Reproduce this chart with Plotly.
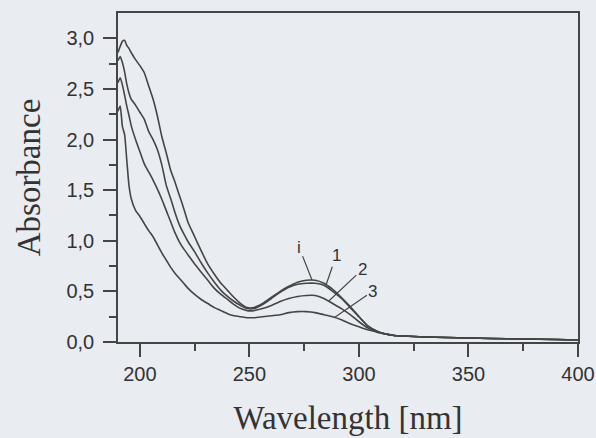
import plotly.graph_objects as go

# wavelength grid (nm)
wavelength = [190, 191, 192, 193, 194, 195, 196, 198, 200, 202,
              204, 206, 208, 210, 212, 214, 216, 218, 220, 222,
              225, 228, 231, 234, 237, 240, 243, 246, 249, 252,
              256, 260, 264, 268, 272, 276, 280, 284, 288, 292,
              296, 300, 304, 308, 312, 316, 320, 330, 340, 350,
              360, 375, 390, 400]

abs_i = [2.86, 2.92, 2.97, 2.98, 2.93, 2.90, 2.86, 2.79, 2.73, 2.66,
         2.53, 2.40, 2.23, 2.03, 1.87, 1.70, 1.58, 1.45, 1.32, 1.18,
         1.04, 0.90, 0.77, 0.67, 0.58, 0.51, 0.44, 0.38, 0.34, 0.34,
         0.38, 0.44, 0.50, 0.55, 0.59, 0.61, 0.61, 0.58, 0.52, 0.44,
         0.35, 0.25, 0.16, 0.11, 0.08, 0.065, 0.06, 0.05, 0.045, 0.04,
         0.035, 0.03, 0.025, 0.02]

abs_1 = [2.78, 2.82, 2.76, 2.67, 2.55, 2.46, 2.40, 2.34, 2.27, 2.20,
         2.08, 2.00, 1.90, 1.75, 1.55, 1.42, 1.28, 1.16, 1.07, 0.99,
         0.89, 0.78, 0.68, 0.59, 0.51, 0.45, 0.40, 0.36, 0.33, 0.33,
         0.37, 0.43, 0.49, 0.54, 0.57, 0.58, 0.58, 0.56, 0.50, 0.43,
         0.34, 0.25, 0.16, 0.11, 0.08, 0.065, 0.06, 0.05, 0.045, 0.04,
         0.035, 0.03, 0.025, 0.02]

abs_2 = [2.56, 2.61, 2.54, 2.44, 2.33, 2.24, 2.14, 2.00, 1.88, 1.76,
         1.68, 1.60, 1.51, 1.41, 1.30, 1.19, 1.08, 0.99, 0.92, 0.86,
         0.77, 0.69, 0.61, 0.53, 0.47, 0.42, 0.37, 0.33, 0.31, 0.31,
         0.33, 0.36, 0.40, 0.43, 0.45, 0.46, 0.46, 0.43, 0.38, 0.33,
         0.27, 0.20, 0.14, 0.10, 0.08, 0.065, 0.06, 0.05, 0.045, 0.04,
         0.035, 0.03, 0.025, 0.02]

abs_3 = [2.28, 2.33, 2.13, 2.05, 1.80, 1.55, 1.42, 1.30, 1.24, 1.17,
         1.10, 1.04, 0.96, 0.88, 0.81, 0.74, 0.68, 0.63, 0.58, 0.53,
         0.47, 0.42, 0.38, 0.34, 0.31, 0.28, 0.26, 0.25, 0.24, 0.24,
         0.25, 0.26, 0.27, 0.29, 0.30, 0.30, 0.29, 0.27, 0.25, 0.22,
         0.18, 0.15, 0.12, 0.10, 0.08, 0.065, 0.06, 0.05, 0.045, 0.04,
         0.035, 0.03, 0.025, 0.02]

series_names = ["i", "1", "2", "3"]
series_values = [abs_i, abs_1, abs_2, abs_3]

# where each curve label's leader line touches the curve
label_wl = [278.6, 285.0, 286.0, 289.0]
label_abs = [0.61, 0.565, 0.40, 0.245]
label_dx = [-13, 10, 34, 38]
label_dy = [-33, -29, -32, -26]

x_ticks = [200, 250, 300, 350, 400]
y_ticks = [0.0, 0.5, 1.0, 1.5, 2.0, 2.5, 3.0]

ink = "#454545"
bg = "#e9ecf1"

fig = go.Figure()

for name, vals in zip(series_names, series_values):
    fig.add_trace(go.Scatter(
        x=wavelength, y=vals,
        mode="lines",
        line=dict(color=ink, width=1.6, shape="spline", smoothing=0.6),
        name=name,
        showlegend=False,
    ))

for name, wx, wy, dx, dy in zip(series_names, label_wl, label_abs, label_dx, label_dy):
    fig.add_annotation(
        x=wx, y=wy, text=name,
        showarrow=True, arrowhead=0, arrowwidth=1.2, arrowcolor=ink,
        ax=dx, ay=dy, standoff=0,
        font=dict(family="Liberation Sans", size=17, color="#333"),
    )

fig.update_layout(
    width=596, height=438,
    margin=dict(l=118, r=18, t=13, b=96),
    paper_bgcolor=bg, plot_bgcolor=bg,
    separators=", ",
    font=dict(family="Liberation Sans", color="#333"),
    xaxis=dict(
        range=[190, 400], automargin=False,
        tickvals=x_ticks,
        ticks="outside", ticklen=13, tickwidth=1.5, tickcolor=ink,
        minor=dict(tickvals=[225, 275, 325, 375], ticks="outside",
                   ticklen=7, tickwidth=1.5, tickcolor=ink),
        showline=True, linecolor=ink, linewidth=1.5, mirror=True,
        showgrid=False, zeroline=False,
        tickfont=dict(size=20),
        title=dict(text="Wavelength [nm]",
                   font=dict(family="Liberation Serif", size=33, color="#333"),
                   standoff=22),
    ),
    yaxis=dict(
        range=[0, 3.25], automargin=False,
        tickvals=y_ticks, tickformat=".1f",
        ticks="outside", ticklen=13, tickwidth=1.5, tickcolor=ink,
        minor=dict(tickvals=[0.25, 0.75, 1.25, 1.75, 2.25, 2.75], ticks="outside",
                   ticklen=7, tickwidth=1.5, tickcolor=ink),
        showline=True, linecolor=ink, linewidth=1.5, mirror=True,
        showgrid=False, zeroline=False,
        tickfont=dict(size=20), ticklabelstandoff=5,
        title=dict(text="Absorbance",
                   font=dict(family="Liberation Serif", size=33, color="#333"),
                   standoff=16),
    ),
)

# drop the browser's default body margin so the figure sits at the page corner
fig.write_html("out.html", config={"displayModeBar": False},
               post_script="document.body.style.margin='0';")
